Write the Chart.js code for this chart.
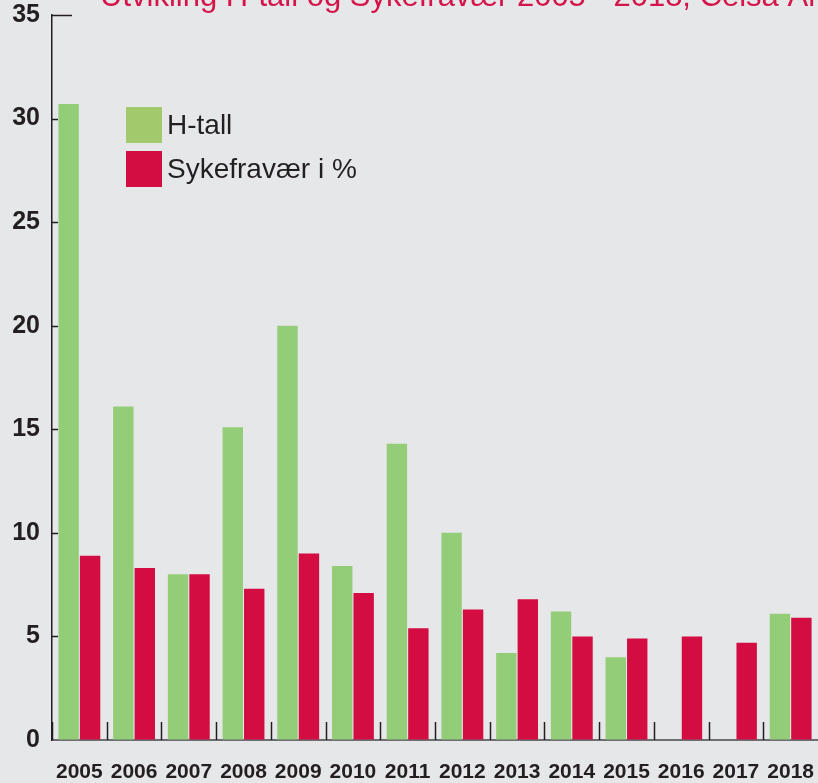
<!DOCTYPE html>
<html>
<head>
<meta charset="utf-8">
<script src="https://cdn.jsdelivr.net/npm/chart.js@4/dist/chart.umd.min.js"></script>
<style>
    body { margin: 0; background: #e6e7e9; }
    #chart { display: block; }
</style>
</head>
<body>
<canvas id="chart" width="818" height="783"></canvas>
<script>
var years = ['2005', '2006', '2007', '2008', '2009', '2010', '2011', '2012', '2013', '2014', '2015', '2016', '2017', '2018'];
var hTall = [30.7, 16.1, 8.0, 15.1, 20.0, 8.4, 14.3, 10.0, 4.2, 6.2, 4.0, null, null, 6.1];
var sykefravaer = [8.9, 8.3, 8.0, 7.3, 9.0, 7.1, 5.4, 6.3, 6.8, 5.0, 4.9, 5.0, 4.7, 5.9];
var seriesNames = ['H-tall', 'Sykefravær i %'];
var yMin = 0, yMax = 35, yStep = 5;
var title = 'Utvikling H-tall og Sykefravær 2005 - 2018, Celsa Armeringsstål';

var green = '#93cd78';
var legendGreen = '#a2c96c';
var red = '#d30c42';
var ink = '#231f20';

// title, legend and the inward tick marks
var extras = {
    id: 'extras',
    afterDraw: function (chart) {
        var ctx = chart.ctx;
        var xs = chart.scales.x, ys = chart.scales.y;
        var area = chart.chartArea;

        ctx.save();
        ctx.fillStyle = '#d4144a';
        ctx.font = '31px "Liberation Sans"';
        ctx.textBaseline = 'alphabetic';
        ctx.fillText(title, 100, 6);

        // y ticks pointing inside
        ctx.strokeStyle = ink;
        ctx.lineWidth = 1.5;
        for (var v = yMin + yStep; v <= yMax; v += yStep) {
            var y = Math.round(ys.getPixelForValue(v)) + 0.5;
            ctx.beginPath();
            ctx.moveTo(area.left, y);
            ctx.lineTo(area.left + (v == yMax ? 20 : 6), y);
            ctx.stroke();
        }

        // x ticks between the years
        var half = (xs.getPixelForValue(1) - xs.getPixelForValue(0)) / 2;
        for (var i = 0; i < years.length; i++) {
            var x = Math.round(xs.getPixelForValue(i) - half) + 0.5;
            ctx.beginPath();
            ctx.moveTo(x, area.bottom);
            ctx.lineTo(x, area.bottom - 18);
            ctx.stroke();
        }

        // legend
        var cols = [legendGreen, red];
        ctx.font = '28px "Liberation Sans"';
        ctx.textBaseline = 'middle';
        for (var k = 0; k < seriesNames.length; k++) {
            var by = 107 + k * 44;
            ctx.fillStyle = cols[k];
            ctx.fillRect(126, by, 36, 36);
            ctx.fillStyle = ink;
            ctx.fillText(seriesNames[k], 167, by + 19);
        }
        ctx.restore();
    }
};

new Chart(document.getElementById('chart'), {
    type: 'bar',
    data: {
        labels: years,
        datasets: [
            { label: seriesNames[0], data: hTall, backgroundColor: green },
            { label: seriesNames[1], data: sykefravaer, backgroundColor: red }
        ]
    },
    options: {
        responsive: false,
        animation: false,
        layout: { autoPadding: false, padding: { top: 15, right: 0, left: 0, bottom: 0 } },
        datasets: { bar: { categoryPercentage: 0.785, barPercentage: 0.95 } },
        plugins: {
            legend: { display: false },
            tooltip: { enabled: false }
        },
        scales: {
            x: {
                grid: { color: 'transparent', drawTicks: false },
                border: { color: '#6d6e71', width: 2 },
                ticks: {
                    color: ink,
                    padding: 20,
                    maxRotation: 0,
                    autoSkip: false,
                    font: { family: 'Liberation Sans', size: 21, weight: 'bold' }
                },
                afterFit: function (s) {
                    s.height = 43;
                    s.paddingLeft = 0;
                    s.paddingRight = 0;
                }
            },
            y: {
                min: yMin,
                max: yMax,
                grid: { color: 'transparent', drawTicks: false },
                border: { color: ink, width: 1.5 },
                ticks: {
                    stepSize: yStep,
                    color: ink,
                    padding: 12,
                    font: { family: 'Liberation Sans', size: 25, weight: 'bold' }
                },
                afterFit: function (s) {
                    s.width = 52;
                    s.paddingTop = 0;
                    s.paddingBottom = 0;
                }
            }
        }
    },
    plugins: [extras]
});
</script>
</body>
</html>
